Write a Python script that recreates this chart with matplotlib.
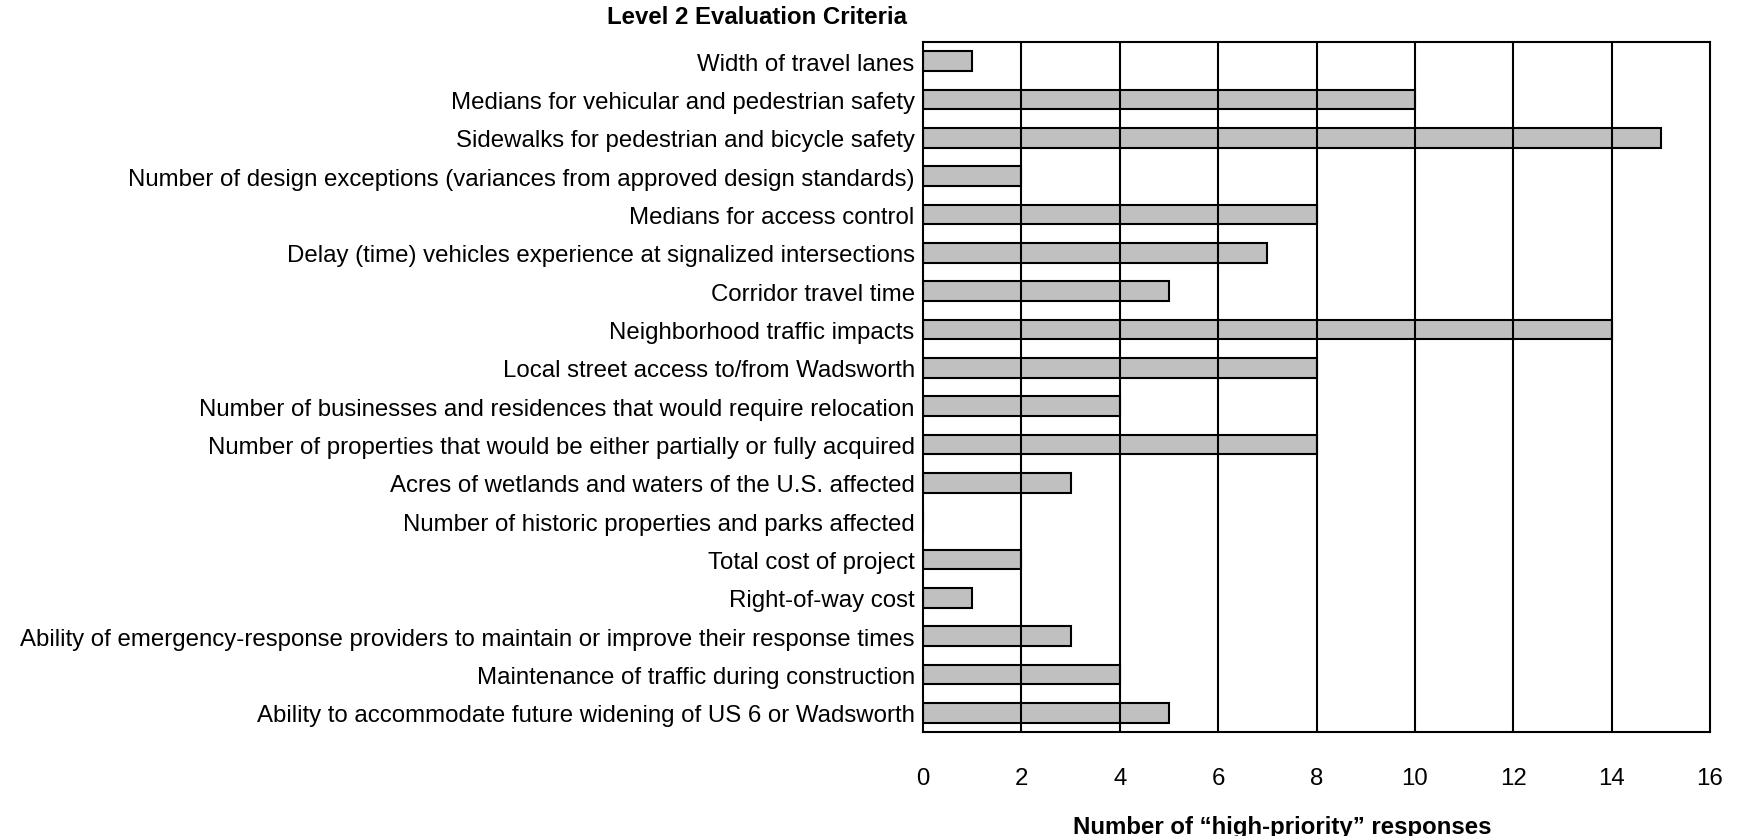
import matplotlib
matplotlib.use("Agg")
import matplotlib.pyplot as plt

plt.rcParams['font.family'] = ['Liberation Sans', 'DejaVu Sans']

categories = [
    "Width of travel lanes",
    "Medians for vehicular and pedestrian safety",
    "Sidewalks for pedestrian and bicycle safety",
    "Number of design exceptions (variances from approved design standards)",
    "Medians for access control",
    "Delay (time) vehicles experience at signalized intersections",
    "Corridor travel time",
    "Neighborhood traffic impacts",
    "Local street access to/from Wadsworth",
    "Number of businesses and residences that would require relocation",
    "Number of properties that would be either partially or fully acquired",
    "Acres of wetlands and waters of the U.S. affected",
    "Number of historic properties and parks affected",
    "Total cost of project",
    "Right-of-way cost",
    "Ability of emergency-response providers to maintain or improve their response times",
    "Maintenance of traffic during construction",
    "Ability to accommodate future widening of US 6 or Wadsworth",
]
values = [1, 10, 15, 2, 8, 7, 5, 14, 8, 4, 8, 3, 0, 2, 1, 3, 4, 5]
xticks = [0, 2, 4, 6, 8, 10, 12, 14, 16]

FS = 17.3
W, H = 1742, 837
fig = plt.figure(figsize=(W / 100, H / 100), dpi=100)
left, right, top, bottom = 923, 1710, 43, 733
ax = fig.add_axes([left / W, 1 - bottom / H, (right - left) / W, (bottom - top) / H])

ypos = list(range(len(categories)))
ax.barh(ypos, values, height=0.52, color="#C0C0C0", edgecolor="black",
        linewidth=1.5, zorder=2)
ax.set_ylim(len(categories) - 0.5, -0.5)
ax.set_xlim(0, 16)
ax.set_xticks(xticks)
ax.set_xticklabels([str(t) for t in xticks])
ax.set_yticks(ypos)
ax.set_yticklabels(categories)
ax.tick_params(axis="both", length=0, labelsize=FS)
ax.tick_params(axis="x", pad=25)
ax.tick_params(axis="y", pad=6)
for t in xticks[1:-1]:
    ax.axvline(t, color="black", linewidth=1.5, zorder=3)
for s in ax.spines.values():
    s.set_linewidth(1.5)
    s.set_zorder(4)

ax.set_xlabel("Number of \u201chigh-priority\u201d responses", fontsize=FS,
              fontweight="bold")
ax.xaxis.set_label_coords((1282 - left) / (right - left), -(828 - bottom) / (bottom - top))
ax.xaxis.label.set_va("center")
fig.text(907 / W, 1 - 18 / H, "Level 2 Evaluation Criteria", fontsize=FS,
         fontweight="bold", ha="right", va="center")

fig.savefig("out.png", dpi=100)
